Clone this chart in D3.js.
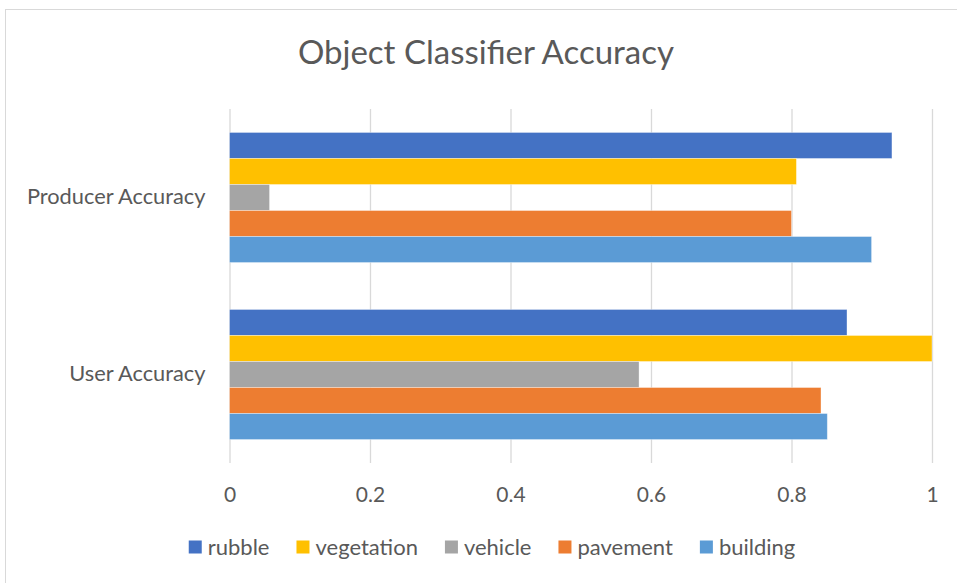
<!DOCTYPE html>
<html>
<head>
<meta charset="utf-8">
<script src="https://cdn.jsdelivr.net/npm/d3@7/dist/d3.min.js"></script>
<style>
  body { margin: 0; background: #fff; }
  text { font-family: Lato, "Open Sans", sans-serif; fill: #595959; }
</style>
</head>
<body>
<div id="chart"></div>
<script>
const categories = ['Producer Accuracy', 'User Accuracy'];
const seriesNames = ['rubble', 'vegetation', 'vehicle', 'pavement', 'building'];
const rubble     = [0.943, 0.879];
const vegetation = [0.807, 1.0];
const vehicle    = [0.057, 0.583];
const pavement   = [0.800, 0.842];
const building   = [0.914, 0.851];
const xTicks = [0, 0.2, 0.4, 0.6, 0.8, 1];

const seriesValues = { rubble, vegetation, vehicle, pavement, building };
const colors = { rubble: '#4472C4', vegetation: '#FFC000', vehicle: '#A5A5A5', pavement: '#ED7D31', building: '#5B9BD5' };

const W = 957, H = 583;
const margin = { top: 109, right: 25, bottom: 120, left: 229.5 };
const w = W - margin.left - margin.right;
const h = H - margin.top - margin.bottom;

const root = d3.select('#chart').append('svg').attr('width', W).attr('height', H);
root.append('rect').attr('x', 5.5).attr('y', 9.5).attr('width', W + 10).attr('height', H + 10)
  .attr('fill', '#fff').attr('stroke', '#d9d9d9');

root.append('text').attr('x', 486).attr('y', 64).attr('text-anchor', 'middle')
  .style('font-size', '33px').text('Object Classifier Accuracy');

const svg = root.append('g').attr('transform', `translate(${margin.left},${margin.top})`);

const x = d3.scaleLinear().domain([0, 1]).range([0, w]);
const y0 = d3.scaleBand().domain(categories).range([0, h]).paddingInner(0.265).paddingOuter(0.1325);
const y1 = d3.scaleBand().domain(seriesNames).range([0, y0.bandwidth()]);

svg.append('g').attr('class', 'grid')
  .call(d3.axisBottom(x).tickValues(xTicks).tickSize(h).tickFormat(() => ''))
  .call(g => g.select('.domain').remove())
  .selectAll('line').style('stroke', '#d9d9d9').style('stroke-width', 1.3);

svg.append('g').attr('class', 'x-axis').attr('transform', `translate(0,${h})`)
  .call(d3.axisBottom(x).tickValues(xTicks).tickSize(0).tickPadding(0).tickFormat(d3.format('~g')))
  .call(g => g.select('.domain').remove())
  .selectAll('text').attr('y', 32).attr('dy', '0.35em').style('font-size', '21px').style('fill', '#595959');

svg.append('g').attr('class', 'y-axis')
  .call(d3.axisLeft(y0).tickSize(0).tickPadding(24))
  .call(g => g.select('.domain').remove())
  .selectAll('text').style('font-size', '21.8px').style('fill', '#595959');

svg.selectAll('.group').data(categories).join('g').attr('class', 'group')
  .attr('transform', d => `translate(0,${y0(d)})`)
  .selectAll('rect').data((d, i) => seriesNames.map(k => ({ key: k, value: seriesValues[k][i] })))
  .join('rect')
  .attr('x', 0).attr('y', d => y1(d.key))
  .attr('width', d => x(d.value)).attr('height', y1.bandwidth())
  .attr('fill', d => colors[d.key])
  .attr('stroke', '#fff').attr('stroke-opacity', 0.45).attr('stroke-width', 0.8);

// legend, laid out from measured text widths and centred
const legend = root.append('g');
let cx = 0;
seriesNames.forEach(k => {
  const item = legend.append('g').attr('transform', `translate(${cx},0)`);
  item.append('rect').attr('x', 0).attr('y', -6.5).attr('width', 13).attr('height', 13).attr('fill', colors[k]);
  const t = item.append('text').attr('x', 19).attr('dy', '0.35em').style('font-size', '22px').text(k);
  cx += 19 + t.node().getComputedTextLength() + 27;
});
const legendW = cx - 27;
legend.attr('transform', `translate(${(187 + 797) / 2 - legendW / 2},547)`);
</script>
</body>
</html>
